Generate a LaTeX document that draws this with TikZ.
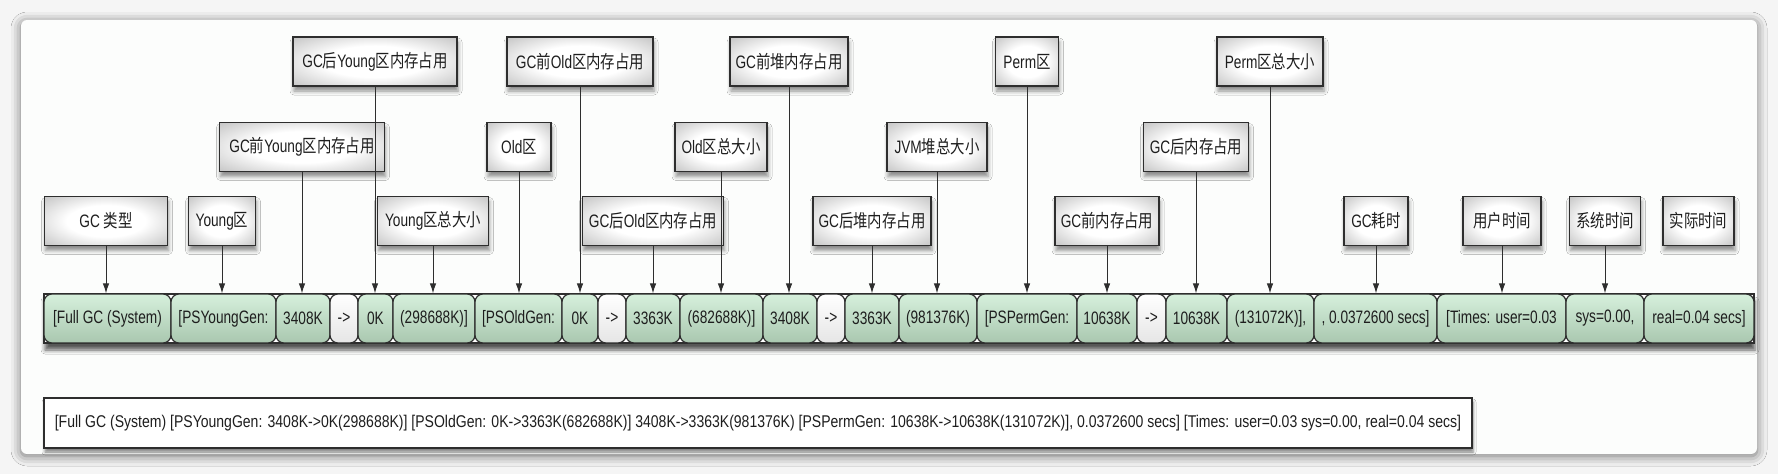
\documentclass[tikz,border=0pt]{standalone}
\usepackage{fontspec}
\setmainfont{Liberation Sans}[FakeStretch=0.76]
\newfontfamily\cjkfont{Noto Sans CJK SC}[FakeStretch=0.8]
\newfontfamily\logfont{Liberation Sans}[FakeStretch=0.825]
\newcommand\zh[1]{{\cjkfont #1}}
\usetikzlibrary{arrows.meta,shadows.blur}
\definecolor{edge}{HTML}{2E2E2E}
\definecolor{gtop}{HTML}{D6F0DC}
\definecolor{gbot}{HTML}{A9C7AF}
\definecolor{txt}{HTML}{1E1E1E}
\definecolor{bg}{HTML}{F5F5F5}
\definecolor{card}{HTML}{FCFDFC}
\pgfdeclareradialshading{lblshade}{\pgfpoint{0bp}{0bp}}{%
  color(0bp)=(white); color(16bp)=(white); color(40bp)=(black!28); color(50bp)=(black!38)}
\tikzset{
 lbl/.style={draw=edge, line width=1.3pt, inner sep=0pt, minimum height=49pt,
   shading=lblshade, text=txt, font=\fontsize{18}{20}\selectfont,
   blur shadow={shadow xshift=1pt, shadow yshift=-5pt, shadow blur radius=4pt, shadow opacity=45}},
 rbox/.style={draw=edge, line width=1.2pt, rounded corners=8pt, inner sep=0pt, minimum height=49pt,
   top color=gtop, bottom color=gbot, text=txt, font=\fontsize{18}{20}\selectfont},
 wbox/.style={rbox, top color=white, bottom color=white!90!black},
 rail/.style={draw=edge, fill=white, line width=1.5pt, inner sep=0pt,
   blur shadow={shadow xshift=1pt, shadow yshift=-7pt, shadow blur radius=4pt, shadow opacity=65}},
 logbox/.style={draw=edge, fill=white, line width=1.3pt, inner sep=0pt, text=txt,
   font=\logfont\fontsize{17}{19}\selectfont,
   blur shadow={shadow xshift=1pt, shadow yshift=-4pt, shadow blur radius=3pt, shadow opacity=50}},
 conn/.style={draw=edge, line width=1pt, -{Latex[length=10pt,width=6.5pt]}},
}
\begin{document}
\begin{tikzpicture}[x=1pt,y=-1pt]
\useasboundingbox (0,0) rectangle (1778,474);
\fill[bg] (0,0) rectangle (1778,474);
\path[fill=card, rounded corners=6pt,
  blur shadow={shadow xshift=0pt, shadow yshift=-2pt, shadow blur radius=10pt, shadow opacity=55}]
  (21,20) rectangle (1757,454);

% row
\node[rail, minimum width=1710pt, minimum height=49pt] (rail) at (899,318.5) {};
\node[rbox, minimum width=127pt] (r1) at (107.5,318.5) {[Full GC (System)};
\node[rbox, minimum width=105pt] (r2) at (223.5,318.5) {[PSYoungGen:};
\node[rbox, minimum width=54pt] (r3) at (303,318.5) {3408K};
\node[wbox, minimum width=28pt] (r4) at (344,318.5) {->};
\node[rbox, minimum width=35pt] (r5) at (375.5,318.5) {0K};
\node[rbox, minimum width=82pt] (r6) at (434,318.5) {(298688K)]};
\node[rbox, minimum width=87pt] (r7) at (518.5,318.5) {[PSOldGen:};
\node[rbox, minimum width=36pt] (r8) at (580,318.5) {0K};
\node[wbox, minimum width=28pt] (r9) at (612,318.5) {->};
\node[rbox, minimum width=54pt] (r10) at (653,318.5) {3363K};
\node[rbox, minimum width=83pt] (r11) at (721.5,318.5) {(682688K)]};
\node[rbox, minimum width=54pt] (r12) at (790,318.5) {3408K};
\node[wbox, minimum width=28pt] (r13) at (831,318.5) {->};
\node[rbox, minimum width=54pt] (r14) at (872,318.5) {3363K};
\node[rbox, minimum width=78pt] (r15) at (938,318.5) {(981376K)};
\node[rbox, minimum width=100pt] (r16) at (1027,318.5) {[PSPermGen:};
\node[rbox, minimum width=60pt] (r17) at (1107,318.5) {10638K};
\node[wbox, minimum width=29pt] (r18) at (1151.5,318.5) {->};
\node[rbox, minimum width=61pt] (r19) at (1196.5,318.5) {10638K};
\node[rbox, minimum width=87pt] (r20) at (1270.5,318.5) {(131072K)],};
\node[rbox, minimum width=123pt] (r21) at (1375.5,318.5) {, 0.0372600 secs]};
\node[rbox, minimum width=129pt] (r22) at (1501.5,318.5) {[Times: user=0.03};
\node[rbox, minimum width=78pt] (r23) at (1605,318.5) {sys=0.00,};
\node[rbox, minimum width=110pt] (r24) at (1699,318.5) {real=0.04 secs]};

% bottom tier labels
\node[lbl, minimum width=123pt] (L1) at (106,221) {GC \zh{类型}};
\node[lbl, minimum width=67pt] (L2) at (222,221) {Young\zh{区}};
\node[lbl, minimum width=111pt] (L6) at (433,221) {Young\zh{区总大小}};
\node[lbl, minimum width=141pt] (L10) at (653,221) {GC\zh{后}Old\zh{区内存占用}};
\node[lbl, minimum width=118pt] (L14) at (872,221) {GC\zh{后堆内存占用}};
\node[lbl, minimum width=104pt] (L17) at (1107,221) {GC\zh{前内存占用}};
\node[lbl, minimum width=64pt] (L21) at (1376,221) {GC\zh{耗时}};
\node[lbl, minimum width=78pt] (L22) at (1502,221) {\zh{用户时间}};
\node[lbl, minimum width=71pt] (L23) at (1605,221) {\zh{系统时间}};
\node[lbl, minimum width=71pt] (L24) at (1698.5,221) {\zh{实际时间}};
% middle tier
\node[lbl, minimum width=165pt] (L3) at (302,147) {GC\zh{前}Young\zh{区内存占用}};
\node[lbl, minimum width=64pt] (L7) at (519,147) {Old\zh{区}};
\node[lbl, minimum width=92pt] (L11) at (721,147) {Old\zh{区总大小}};
\node[lbl, minimum width=100pt] (L15) at (937,147) {JVM\zh{堆总大小}};
\node[lbl, minimum width=105pt] (L19) at (1196,147) {GC\zh{后内存占用}};
% top tier
\node[lbl, minimum width=164pt] (L5) at (375,61.5) {GC\zh{后}Young\zh{区内存占用}};
\node[lbl, minimum width=146pt] (L8) at (580,61.5) {GC\zh{前}Old\zh{区内存占用}};
\node[lbl, minimum width=118pt] (L12) at (789,61.5) {GC\zh{前堆内存占用}};
\node[lbl, minimum width=63pt] (L16) at (1027,61.5) {Perm\zh{区}};
\node[lbl, minimum width=106pt] (L20) at (1270,61.5) {Perm\zh{区总大小}};

% connectors
\foreach \k in {1,2,3,5,6,7,8,10,11,12,14,15,16,17,19,20,21,22,23}{
  \draw[conn] (L\k.south) -- (L\k.south |- r\k.north);
}

% log line
\node[logbox, minimum width=1428pt, minimum height=50pt] (log) at (758,423)
 {[Full GC (System) [PSYoungGen: 3408K->0K(298688K)] [PSOldGen: 0K->3363K(682688K)] 3408K->3363K(981376K) [PSPermGen: 10638K->10638K(131072K)], 0.0372600 secs] [Times: user=0.03 sys=0.00, real=0.04 secs]};
\end{tikzpicture}
\end{document}
